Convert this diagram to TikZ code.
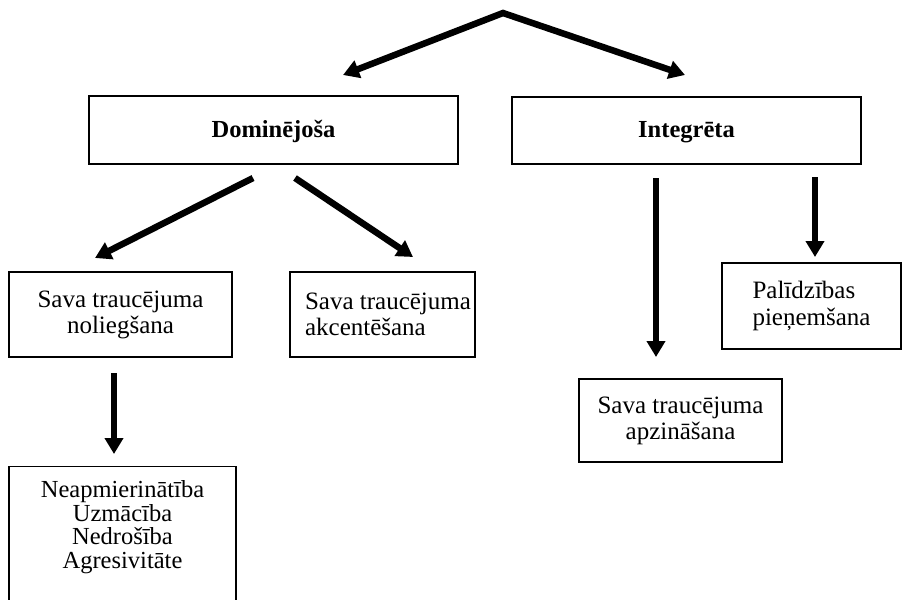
\documentclass[tikz,border=0pt]{standalone}
\usepackage{fontspec}
\setmainfont{Liberation Serif}
\usetikzlibrary{arrows.meta}
\begin{document}
\begin{tikzpicture}[x=1pt,y=-1pt,
  box/.style={draw, line width=1.4pt, inner sep=0pt, align=center,
    font=\fontsize{25}{26}\selectfont},
  hdr/.style={box, font=\fontsize{24.5}{26}\selectfont\bfseries,
    text height=19pt, text depth=5pt},
  arr/.style={line width=6.5pt, -{Triangle[length=16pt,width=18pt]}}]
\useasboundingbox (0,0) rectangle (903,600);
% header boxes
\node[hdr, minimum width=369pt, minimum height=68pt] (dom) at (273.5,130) {Dominējoša};
\node[hdr, minimum width=349pt, minimum height=67pt] (int) at (686.5,130.5) {Integrēta};
% second row
\node[box, minimum width=223pt, minimum height=85pt] (nol) at (120.5,314.5)
  {Sava traucējuma\\noliegšana};
\node[box, align=left, minimum width=185pt, minimum height=85pt] (akc) at (382.5,314.5)
  {\hspace*{11pt}Sava traucējuma\\\hspace*{11pt}akcentēšana};
\node[box, align=left, minimum width=179pt, minimum height=86pt] (pal) at (811.5,306)
  {Palīdzības\\[1pt]pieņemšana};
\node[box, minimum width=203pt, minimum height=83pt] (apz) at (680.5,420.5)
  {Sava traucējuma\\apzināšana};
% list box (bottom cut by the page edge)
\node[box, anchor=north, minimum width=227pt, inner ysep=14pt,
  font=\fontsize{24.5}{23.5}\selectfont] (lst) at (122.5,466)
  {Neapmierinātība\\Uzmācība\\Nedrošība\\Agresivitāte\rule[-60pt]{0pt}{60pt}};
% arrow coordinates
\coordinate (apex) at (503,13);
\coordinate (tl) at (343,75);
\coordinate (tr) at (685,75);
\coordinate (d1s) at (253,178);
\coordinate (d1e) at (95,258);
\coordinate (d2s) at (295,178);
\coordinate (d2e) at (413,257);
\coordinate (i1s) at (656,178);
\coordinate (i1e) at (656,357);
\coordinate (i2s) at (815,177);
\coordinate (i2e) at (815,257);
\coordinate (n1s) at (114,373);
\coordinate (n1e) at (114,454);
% arrows
\draw[line width=6.5pt, line join=miter, {Triangle[length=16pt,width=18pt]}-{Triangle[length=16pt,width=18pt]}]
  (tl) -- (apex) -- (tr);
\draw[arr] (d1s) -- (d1e);
\draw[arr] (d2s) -- (d2e);
\draw[arr] (i1s) -- (i1e);
\draw[arr] (i2s) -- (i2e);
\draw[arr] (n1s) -- (n1e);
\end{tikzpicture}
\end{document}
